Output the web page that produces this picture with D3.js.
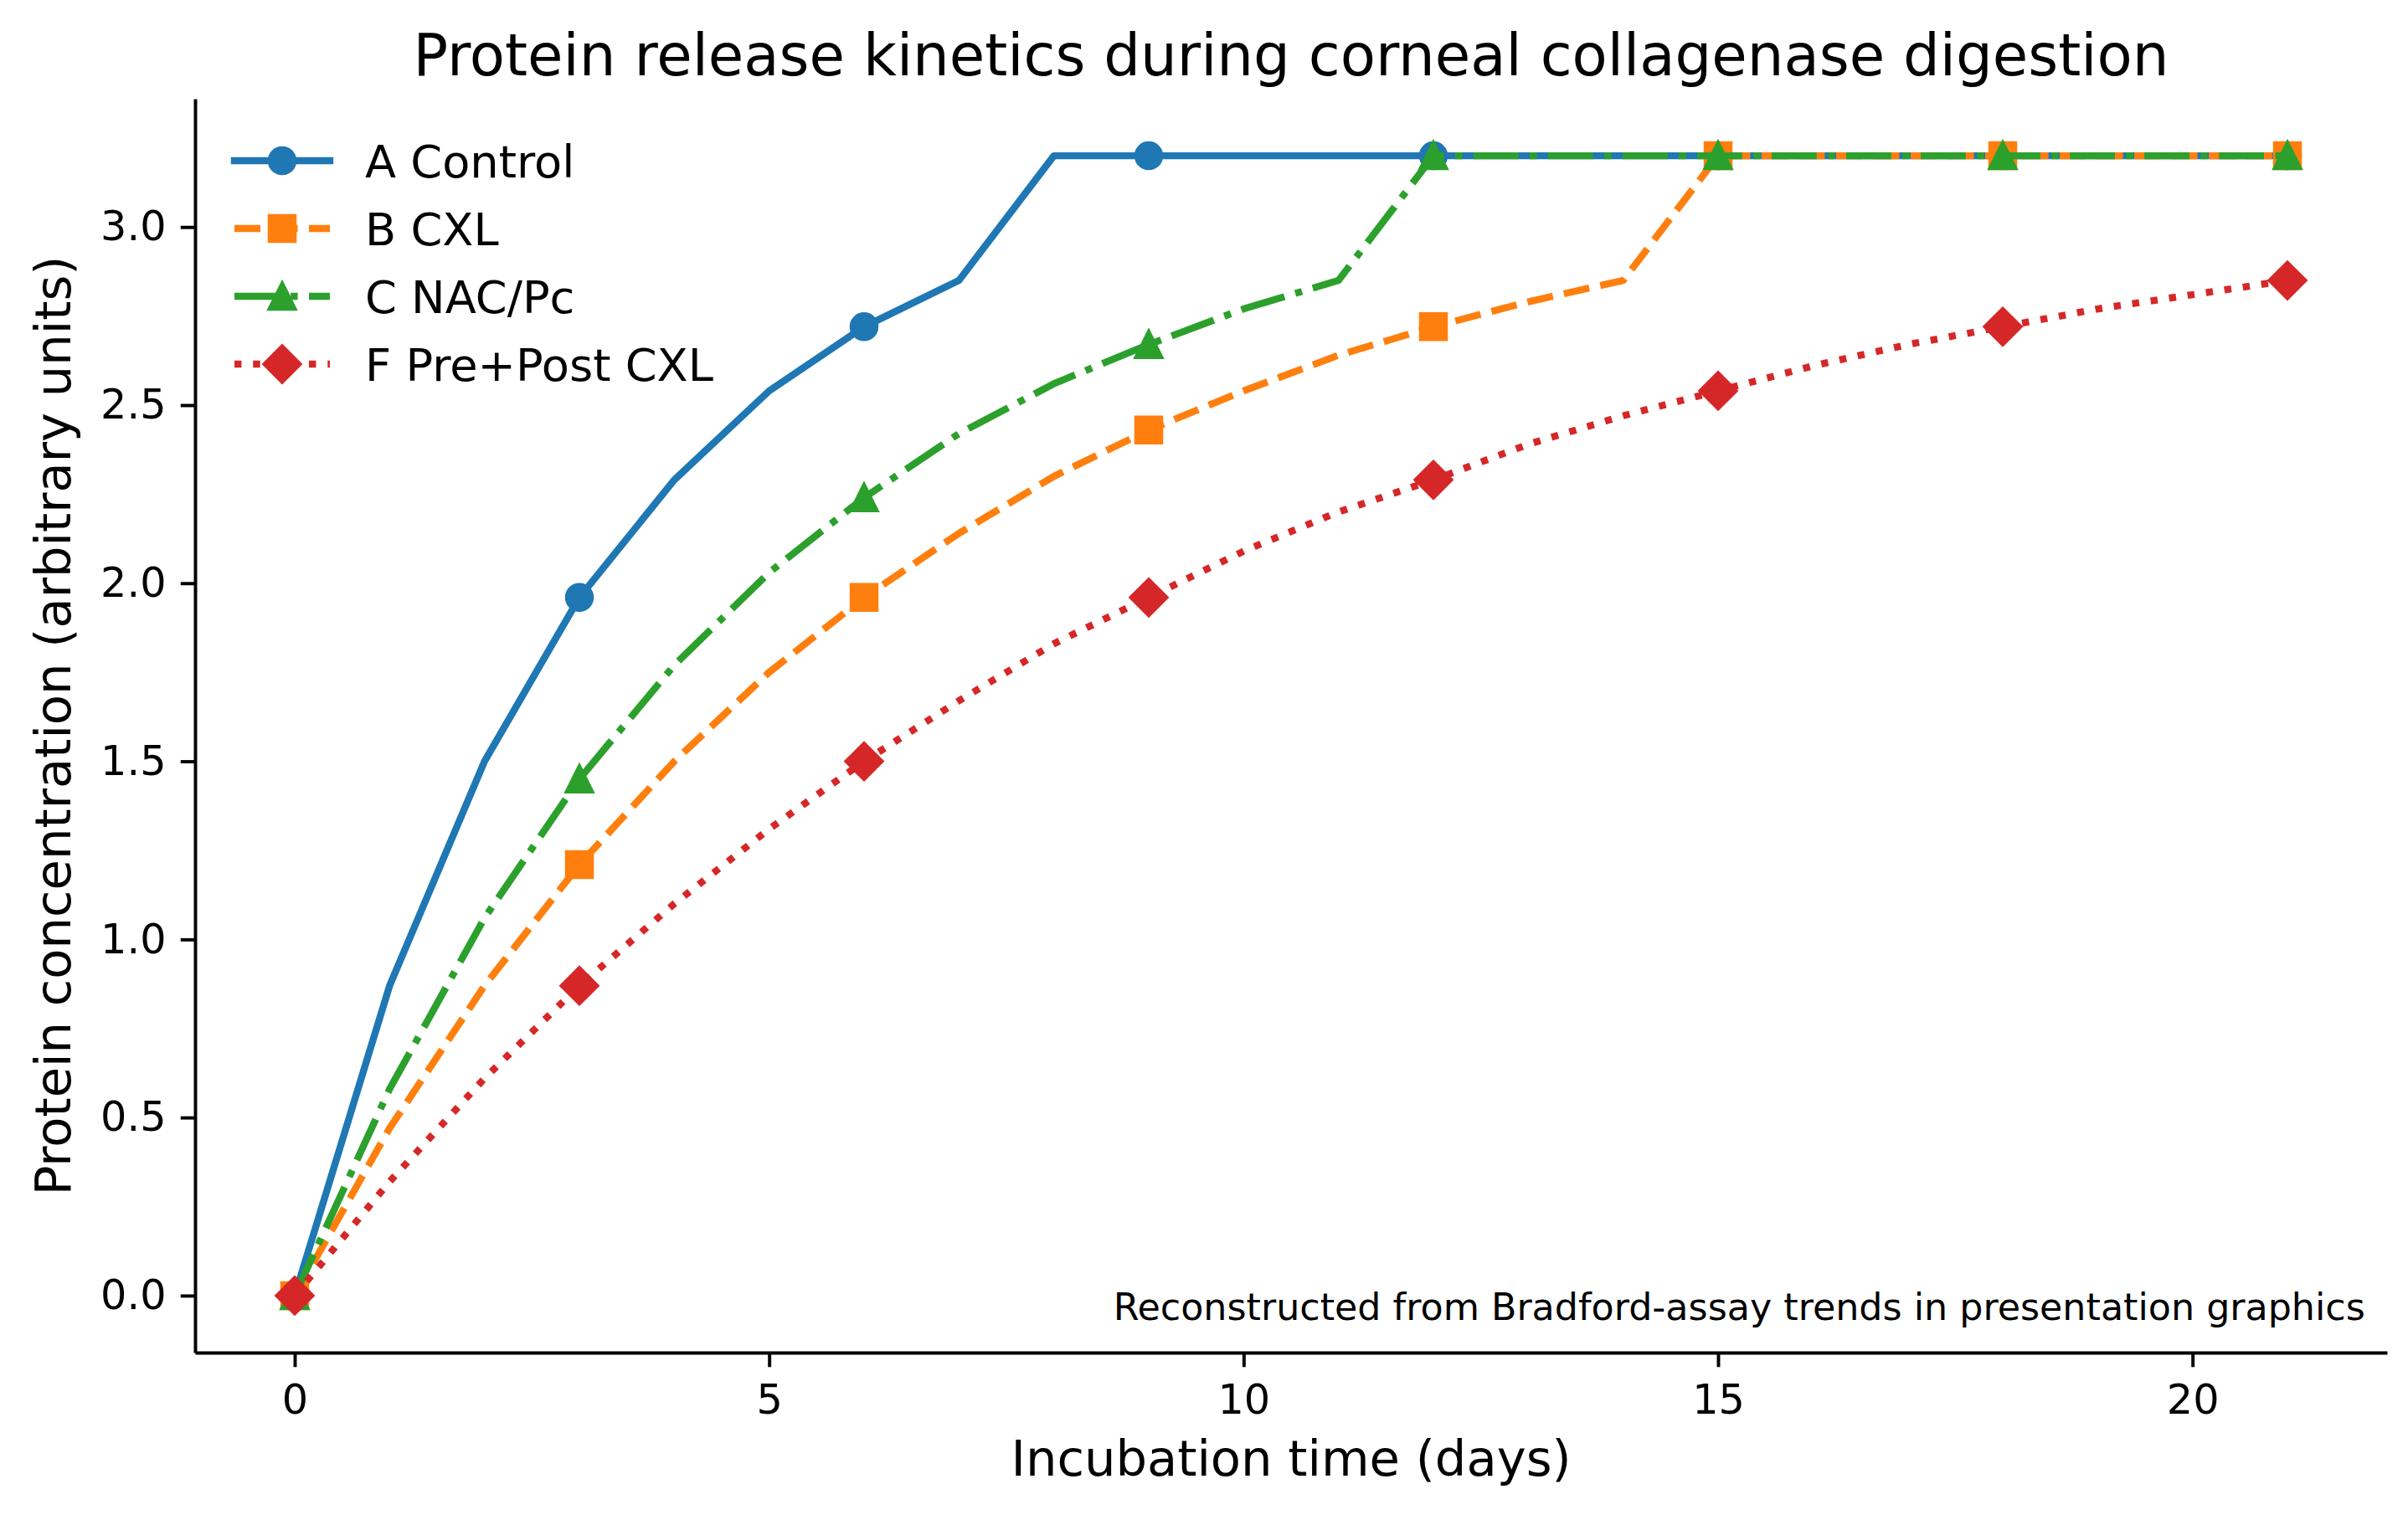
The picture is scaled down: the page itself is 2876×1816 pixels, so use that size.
<!DOCTYPE html>
<html>
<head>
<meta charset="utf-8">
<script src="https://cdn.jsdelivr.net/npm/d3@7"></script>
<style>
  body { margin: 0; background: #fff; }
  svg text { font-family: 'DejaVu Sans', sans-serif; fill: #000; }
</style>
</head>
<body>
<div id="chart"></div>
<script>
// data
const days = [0, 1, 2, 3, 4, 5, 6, 7, 8, 9, 10, 11, 12, 13, 14, 15, 16, 17, 18, 19, 20, 21]
const controlValues = [0, 0.87, 1.50, 1.96, 2.29, 2.54, 2.72, 2.85, 3.2, 3.2, 3.2, 3.2, 3.2, 3.2, 3.2, 3.2, 3.2, 3.2, 3.2, 3.2, 3.2, 3.2]
const cxlValues = [0, 0.47, 0.87, 1.21, 1.50, 1.75, 1.96, 2.14, 2.30, 2.43, 2.54, 2.64, 2.72, 2.79, 2.85, 3.2, 3.2, 3.2, 3.2, 3.2, 3.2, 3.2]
const nacValues = [0, 0.58, 1.06, 1.45, 1.77, 2.03, 2.24, 2.42, 2.56, 2.67, 2.77, 2.85, 3.2, 3.2, 3.2, 3.2, 3.2, 3.2, 3.2, 3.2, 3.2, 3.2]
const prePostValues = [0, 0.32, 0.61, 0.87, 1.10, 1.31, 1.50, 1.67, 1.83, 1.96, 2.09, 2.20, 2.29, 2.39, 2.47, 2.54, 2.61, 2.67, 2.72, 2.77, 2.81, 2.85]
const seriesLabels = ['A Control', 'B CXL', 'C NAC/Pc', 'F Pre+Post CXL']
const markerDays = [0, 3, 6, 9, 12, 15, 18, 21]
const xTicks = [0, 5, 10, 15, 20]
const yTicks = [0, 0.5, 1, 1.5, 2, 2.5, 3]

const titleText = 'Protein release kinetics during corneal collagenase digestion'
const xLabelText = 'Incubation time (days)'
const yLabelText = 'Protein concentration (arbitrary units)'
const noteText = 'Reconstructed from Bradford-assay trends in presentation graphics'

const PT = 4.93 // px per point in the reference
const width = 2876
const height = 1816
const plot = { left: 233, right: 2851, top: 118, bottom: 1616 }
const lw = 8.4
const ms = 6 * PT

const series = [
  { label: seriesLabels[0], values: controlValues, color: '#1f77b4', dash: null, marker: 'circle' },
  { label: seriesLabels[1], values: cxlValues, color: '#ff7f0e', dash: [3.7, 1.6], marker: 'square' },
  { label: seriesLabels[2], values: nacValues, color: '#2ca02c', dash: [6.4, 1.6, 1, 1.6], marker: 'triangle' },
  { label: seriesLabels[3], values: prePostValues, color: '#d62728', dash: [1, 1.65], marker: 'diamond' }
]

const x = d3.scaleLinear().domain([-1.05, 22.05]).range([plot.left, plot.right])
const y = d3.scaleLinear().domain([-0.16, 3.36]).range([plot.bottom, plot.top])

const svg = d3.select('#chart')
  .append('svg')
  .attr('width', width)
  .attr('height', height)

svg.append('rect').attr('width', width).attr('height', height).attr('fill', '#fff')

const markerPath = shape => {
  const h = ms / 2
  if (shape === 'circle') return d3.symbol(d3.symbolCircle, Math.PI * h * h)()
  if (shape === 'triangle') return `M0,${-h}L${h},${h}L${-h},${h}Z`
  return d3.symbol(d3.symbolSquare, ms * ms)()
}
const markerTransform = (shape, px, py) =>
  `translate(${px},${py})` + (shape === 'diamond' ? ' rotate(45)' : '')

const dashString = s => s.dash ? s.dash.map(v => v * lw).join(',') : null

// axes
const xAxis = d3.axisBottom(x)
  .tickValues(xTicks)
  .tickFormat(d3.format('d'))
  .tickSizeInner(3.5 * PT)
  .tickSizeOuter(0)
  .tickPadding(3.5 * PT + 3)

const yAxis = d3.axisLeft(y)
  .tickValues(yTicks)
  .tickFormat(d3.format('.1f'))
  .tickSizeInner(3.5 * PT)
  .tickSizeOuter(0)
  .tickPadding(3.5 * PT)

const gx = svg.append('g')
  .attr('class', 'x-axis')
  .attr('transform', `translate(0, ${plot.bottom})`)
  .call(xAxis)

const gy = svg.append('g')
  .attr('class', 'y-axis')
  .attr('transform', `translate(${plot.left}, 0)`)
  .call(yAxis)

for (const g of [gx, gy]) {
  g.select('.domain').attr('stroke', '#000').attr('stroke-width', 0.8 * PT)
  g.selectAll('.tick line').attr('stroke', '#000').attr('stroke-width', 0.8 * PT)
  g.selectAll('.tick text')
    .attr('font-size', 10 * PT)
    .attr('font-family', "'DejaVu Sans', sans-serif")
    .attr('fill', '#000')
}

// lines and markers
const line = d3.line()
  .x((d, i) => x(days[i]))
  .y(d => y(d))

const lines = svg.append('g').attr('class', 'lines')

series.forEach(s => {
  const g = lines.append('g')
  g.append('path')
    .attr('d', line(s.values))
    .attr('fill', 'none')
    .attr('stroke', s.color)
    .attr('stroke-width', lw)
    .attr('stroke-linejoin', 'round')
    .attr('stroke-linecap', s.dash ? 'butt' : 'square')
    .attr('stroke-dasharray', dashString(s))

  g.selectAll('path.marker')
    .data(markerDays)
    .enter()
    .append('path')
    .attr('class', 'marker')
    .attr('d', markerPath(s.marker))
    .attr('transform', d => markerTransform(s.marker, x(d), y(s.values[days.indexOf(d)])))
    .attr('fill', s.color)
    .attr('stroke', s.color)
    .attr('stroke-width', 1 * PT)
    .attr('stroke-linejoin', 'miter')
})

// legend
const legend = svg.append('g').attr('class', 'legend')
const legendX0 = 280
const legendX1 = 394
const legendTextX = 436
const legendY0 = 192
const legendStep = 81

series.forEach((s, i) => {
  const ly = legendY0 + i * legendStep
  legend.append('path')
    .attr('d', `M${legendX0},${ly}L${legendX1},${ly}`)
    .attr('stroke', s.color)
    .attr('stroke-width', lw)
    .attr('stroke-linecap', s.dash ? 'butt' : 'square')
    .attr('stroke-dasharray', dashString(s))
  legend.append('path')
    .attr('d', markerPath(s.marker))
    .attr('transform', markerTransform(s.marker, (legendX0 + legendX1) / 2, ly))
    .attr('fill', s.color)
    .attr('stroke', s.color)
    .attr('stroke-width', 1 * PT)
  legend.append('text')
    .attr('x', legendTextX)
    .attr('y', ly)
    .attr('dy', '0.36em')
    .attr('font-size', 11 * PT)
    .text(s.label)
})

// texts
const midX = (plot.left + plot.right) / 2

svg.append('text')
  .attr('x', midX)
  .attr('y', 90)
  .attr('text-anchor', 'middle')
  .attr('font-size', 14 * PT)
  .text(titleText)

svg.append('text')
  .attr('x', midX)
  .attr('y', 1763)
  .attr('text-anchor', 'middle')
  .attr('font-size', 12 * PT)
  .text(xLabelText)

svg.append('text')
  .attr('transform', `translate(84, ${(plot.top + plot.bottom) / 2}) rotate(-90)`)
  .attr('text-anchor', 'middle')
  .attr('font-size', 12 * PT)
  .text(yLabelText)

svg.append('text')
  .attr('x', plot.left + 0.99 * (plot.right - plot.left))
  .attr('y', 1577)
  .attr('text-anchor', 'end')
  .attr('font-size', 9 * PT)
  .text(noteText)
</script>
</body>
</html>
